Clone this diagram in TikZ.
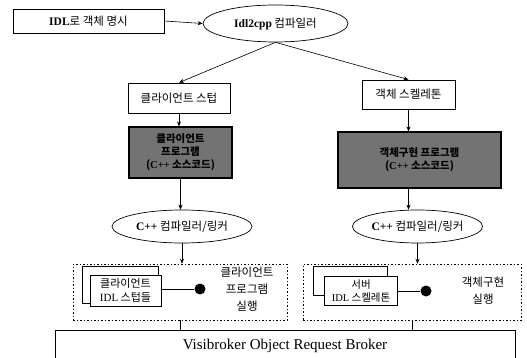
\documentclass[tikz,border=0pt]{standalone}
\usepackage{fontspec}
\setmainfont{Liberation Serif}
\newfontfamily\kr{Noto Sans CJK KR}
\usetikzlibrary{shapes.geometric,arrows.meta}
\tikzset{
  plainbox/.style={draw, line width=0.8pt, rectangle, inner sep=0pt, fill=white, font=\kr\fontsize{11.5}{13}\selectfont, align=center},
  darkbox/.style={draw, line width=1.2pt, rectangle, inner sep=0pt, fill=black!55, font=\kr\bfseries\fontsize{10.5}{13}\selectfont, align=center, text=black},
  ell/.style={draw, line width=0.7pt, ellipse, inner sep=0pt, font=\kr\fontsize{11.5}{13}\selectfont},
  dotbox/.style={draw, dash pattern=on 1.5pt off 2pt, line width=0.5pt, rectangle, inner sep=0pt},
  lbl/.style={font=\kr\fontsize{11.5}{17}\selectfont, align=center, inner sep=0pt},
  arr/.style={line width=0.6pt, -{Stealth[length=5pt,width=4pt]}},
  ln/.style={line width=0.6pt},
}
\begin{document}
\begin{tikzpicture}[x=1pt,y=-1pt]
\useasboundingbox (0,0) rectangle (527,358);
\begin{scope}
\clip (0,0) rectangle (527,358);
% top row
\node[plainbox, minimum width=151pt, minimum height=24pt] (idl) at (88.5,21) {{\rmfamily\bfseries IDL}로 객체 명시};
\node[ell, minimum width=145pt, minimum height=37pt] (comp) at (275.5,23.5) {{\rmfamily\bfseries Idl2cpp} 컴파일러};
% second row
\node[plainbox, minimum width=102pt, minimum height=30pt] (stub) at (179,98) {클라이언트 스텁};
\node[plainbox, minimum width=93pt, minimum height=29pt] (skel) at (408.5,94.5) {객체 스켈레톤};
% dark boxes
\node[darkbox, minimum width=103pt, minimum height=51pt] (cprog) at (180.5,152.5) {클라이언트\\프로그램\\({\rmfamily C++} 소스코드)};
\node[darkbox, minimum width=163pt, minimum height=56pt] (sprog) at (419.5,160) {객체구현 프로그램\\({\rmfamily C++} 소스코드)};
% compilers
\node[ell, minimum width=140pt, minimum height=33pt] (cc1) at (182,226.5) {{\rmfamily\bfseries C++} 컴파일러/링커};
\node[ell, minimum width=125pt, minimum height=33pt] (cc2) at (417.5,226.5) {{\rmfamily\bfseries C++} 컴파일러/링커};
% dotted containers
\node[dotbox, minimum width=214pt, minimum height=56pt] (d1) at (180,292) {};
\node[dotbox, minimum width=218pt, minimum height=56pt] (d2) at (412,292) {};
% left stacked boxes
\node[plainbox, minimum width=76pt, minimum height=37pt] (b1) at (120,284.5) {};
\node[plainbox, minimum width=71pt, minimum height=31pt, font=\kr\fontsize{11}{14}\selectfont] (f1) at (125.5,290.5) {클라이언트\\{\rmfamily IDL} 스텁들};
\node[circle, fill=black, minimum size=11pt, inner sep=0pt] (dot1) at (200,289) {};
\node[lbl] (t1) at (247,289) {클라이언트\\프로그램\\실행};
% right stacked boxes
\node[plainbox, minimum width=74pt, minimum height=29pt] (b2) at (350,280.5) {};
\node[plainbox, minimum width=73pt, minimum height=29pt, font=\kr\fontsize{10.5}{13.5}\selectfont] (f2) at (361,291) {서버\\{\rmfamily IDL} 스켈레톤};
\node[circle, fill=black, minimum size=11pt, inner sep=0pt] (dot2) at (426,291) {};
\node[lbl] (t2) at (483,291) {객체구현\\실행};
% ORB
\node[draw, line width=0.7pt, rectangle, minimum width=460pt, minimum height=50pt, inner sep=0pt] (orb) at (285,355) {};
\node[font=\fontsize{15}{17}\selectfont, inner sep=0pt] (orbt) at (285,346) {Visibroker Object Request Broker};
% connectors
\draw[arr] (idl.east) -- (comp.west);
\draw[arr] (comp.south) -- (stub.north);
\draw[arr] (comp.south) -- (skel.north);
\draw[arr] (stub.south) -- (stub.south |- cprog.north);
\draw[arr] (skel.south) -- (skel.south |- sprog.north);
\draw[arr] (cprog.south) -- (cprog.south |- cc1.north);
\draw[arr] (skel.south |- sprog.south) -- (skel.south |- cc2.north);
\draw[arr] (cc1.south) -- (cc1.south |- d1.north);
\draw[arr] (cc2.south) -- (cc2.south |- d2.north);
\draw[ln] (f1.east |- dot1) -- (dot1);
\draw[ln] (f2.east |- dot2) -- (dot2);
\draw[ln] (d1.south) -- (d1.south |- orb.north);
\draw[ln] (d2.south) -- (d2.south |- orb.north);
\end{scope}
\end{tikzpicture}
\end{document}
